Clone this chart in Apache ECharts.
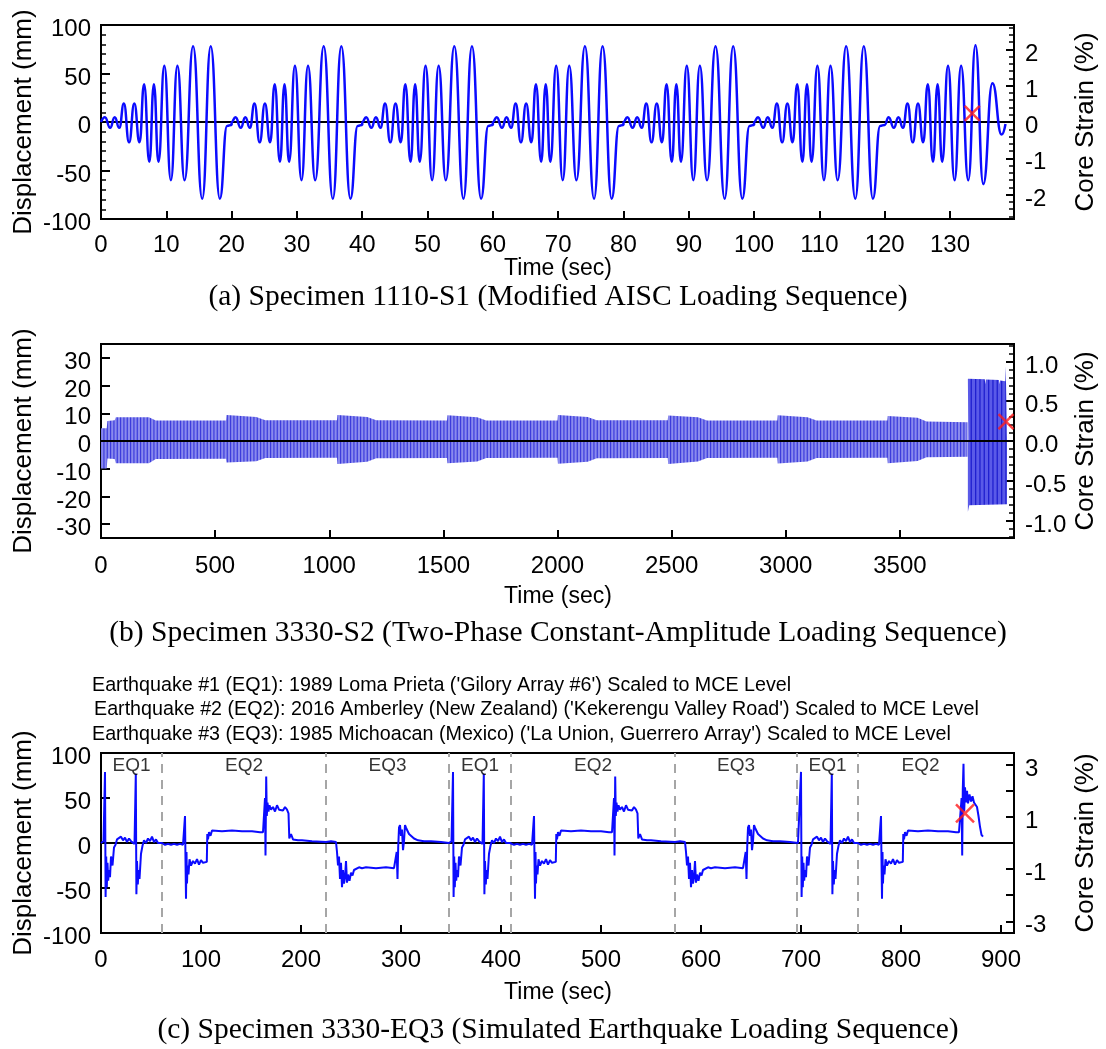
<!DOCTYPE html>
<html><head><meta charset="utf-8">
<script src="https://cdn.jsdelivr.net/npm/echarts@6/dist/echarts.min.js"></script>
<style>html,body{margin:0;padding:0;background:#fff}#c{width:1106px;height:1049px}</style>
</head><body><div id="c"></div>
<script>
// ================= DATA =================
// ---- Panel (a): Modified AISC loading sequence (turning points, sec / mm)
const aBlockStarts = [0, 20, 40, 60, 80, 100];
const aBlockTimes = [0, 0.6, 1.4, 2.1, 2.8, 3.5, 4.3, 5.1, 5.9, 6.6, 7.4, 8.1, 8.8, 9.7, 10.7, 11.7, 12.8, 14.1, 15.5, 16.8, 18.2, 19.3, 20];
const aBlockDisp  = [0, 5, -6, 5, -6, 19, -21, 19, -21, 39, -41, 39, -41, 58, -60, 58, -60, 78, -79, 78, -79, -4, -3];
const aLastStart = 120;
const aLastTimes = [0, 0.6, 1.4, 2.1, 2.8, 3.5, 4.3, 5.1, 5.9, 6.6, 7.4, 8.1, 8.8, 9.7, 10.7, 11.7, 12.8, 13.9, 15.1, 16.5, 17.9, 18.5];
const aLastDisp  = [-3, 5, -6, 5, -6, 19, -21, 19, -21, 39, -41, 39, -41, 58, -60, 58, -60, 79, -64, 40, -13, -2];
const aFailure = [133.4, 9];
const aStrainMajor = [-2, -1, 0, 1, 2];
const aStrainMinor = [-2.6, -2.4, -2.2, -1.8, -1.6, -1.4, -1.2, -0.8, -0.6, -0.4, -0.2, 0.2, 0.4, 0.6, 0.8, 1.2, 1.4, 1.6, 1.8, 2.2, 2.4, 2.6];

// ---- Panel (b): envelope of the dense constant-amplitude cycles (sec / mm)
const bUpper1T = [0, 25, 28, 60, 65, 210, 240, 548, 550, 680, 720, 1034, 1036, 1166, 1206, 1516, 1518, 1648, 1688, 2000, 2002, 2132, 2172, 2483, 2485, 2615, 2655, 2963, 2965, 3095, 3135, 3445, 3447, 3577, 3617, 3796];
const bUpper1D = [4.6, 4.6, 7.2, 7.5, 8.6, 8.6, 7.4, 7.4, 9.4, 8.7, 7.5, 7.5, 9.4, 8.7, 7.5, 7.4, 9.3, 8.6, 7.4, 7.4, 9.4, 8.7, 7.5, 7.5, 9.2, 8.6, 7.4, 7.4, 9.3, 8.6, 7.4, 7.4, 9.0, 8.4, 7.0, 6.8];
const bLower1T = bUpper1T;
const bLower1D = [-9.9, -9.9, -6.3, -6.5, -8, -8, -6.5, -6.4, -7.8, -7.3, -6.1, -6.0, -8.3, -7.5, -6.2, -6.1, -8, -7.4, -6.1, -6.0, -8.2, -7.5, -6.2, -6.1, -8.3, -7.4, -6.1, -6.0, -8.1, -7.4, -6.1, -6.0, -8.0, -7.2, -5.9, -5.7];
const bUpper2T = [3798, 3800, 3872, 3874, 3877, 3934, 3936, 3939, 3962, 3964, 3969];
const bUpper2D = [22.5, 23, 22.3, 20.5, 22.2, 22, 20.5, 21.8, 21.6, 27, 27];
const bLower2T = [3798, 3801, 3804, 3969];
const bLower2D = [-25.5, -25.5, -23.2, -22.8];
const bFailure = [3965, 7];
const bDispTicks = [-30, -20, -10, 0, 10, 20, 30];
const bStrainMajor = [-1, -0.5, 0, 0.5, 1];
const bStrainMinor = [-1.2, -1.1, -0.9, -0.8, -0.7, -0.6, -0.4, -0.3, -0.2, -0.1, 0.1, 0.2, 0.3, 0.4, 0.6, 0.7, 0.8, 0.9, 1.1, 1.2];

// ---- Panel (c): simulated earthquake sequence (time relative to event start, sec / mm)
const eq1T = [0, 2.5, 4, 4.6, 5.2, 5.8, 6.5, 7.2, 8, 9, 10, 11.5, 13, 14.5, 16, 18, 20, 22, 24, 26, 28, 30, 32, 33.5, 34.8, 35.4, 36, 36.8, 37.6, 38.5, 40, 41.5, 43, 45, 47, 49, 51, 53, 55, 57, 59, 61];
const eq1D = [0, 2, 79, -60, -15, -49, -22, -42, -30, -38, -15, -25, -5, -2, 4, 2, 7, 3, 6, 1, 5, 2, 4, -1, 77, -57, -20, -46, -30, -40, -12, -3, 3, 0, 5, 2, 7, 1, 4, 0, 2, 0];
const eq2T = [0, 3, 6, 9, 12, 15, 18, 21, 22.5, 23, 23.5, 24, 24.5, 25, 25.5, 26.5, 27.5, 29, 31, 33, 35, 37, 39, 41, 43, 44.8, 45.3, 46, 47, 48.5, 50, 52, 60, 70, 80, 90, 98, 101, 102.5, 103, 103.5, 104.2, 104.8, 105.5, 106.5, 107.5, 109, 111, 113, 115, 117, 119, 121, 123, 125, 126.5, 127.3, 129, 131, 133, 136, 140, 150, 164];
const eq2D = [-1, -2, -1, -2, -1, -2, -1, -2, -3, 30, -20, -62, -10, -45, -25, -35, -18, -25, -20, -23, -18, -24, -19, -22, -20, -21, 10, 4, 12, 8, 14, 13, 13, 14, 13, 13, 12, 12, 11, 50, -14, 74, 30, 45, 35, 42, 37, 40, 35, 42, 37, 39, 36, 40, 37, 33, 5, 10, 4, 6, 3, 3, 2, 1];
const eq3T = [0, 5, 10, 11, 12, 13, 14, 15, 16, 17, 18, 19, 20, 21, 22, 23.5, 25, 26.5, 28, 30, 33, 36, 40, 50, 60, 68, 70, 70.7, 71.5, 72.2, 73, 74, 75, 76, 77, 78, 79, 80, 81, 83, 85, 88, 92, 98, 105, 115, 123];
const eq3D = [3, 2, 1, -10, -25, -15, -40, -22, -49, -30, -45, -38, -20, -44, -35, -42, -33, -36, -30, -28, -27, -28, -27, -28, -27, -28, -26, -10, -40, -5, 17, 20, 8, 15, -8, 2, 20, 17, 15, 10, 8, 5, 3, 2, 2, 1, 0];
const eqFailTailT = [103, 103.6, 104.2, 104.8, 105.5, 106.2, 107, 108, 109, 110, 111.5, 113, 114.5, 116, 117.5, 119, 120.5, 122, 123.5, 125];
const eqFailTailD = [12, 50, -14, 60, 88, 35, 62, 45, 58, 44, 54, 46, 52, 45, 47, 40, 30, 18, 9, 7];
const cEvents = ['EQ1', 'EQ2', 'EQ3', 'EQ1', 'EQ2', 'EQ3', 'EQ1', 'EQ2'];
const cStarts = [0, 61, 225, 348, 410, 574, 696, 757];
const cFailure = [864, 33];
const cStrainMajor = [-3, -2, -1, 0, 1, 2, 3];
const cStrainLabels = [-3, -1, 1, 3];

// ================= BUILD =================
const pairs = (T, D, off) => T.map((t, i) => [t + (off || 0), D[i]]);
const aData = [];
aBlockStarts.forEach(s => aData.push(...pairs(aBlockTimes, aBlockDisp, s)));
aData.push(...pairs(aLastTimes, aLastDisp, aLastStart));

const templates = {EQ1: [eq1T, eq1D], EQ2: [eq2T, eq2D], EQ3: [eq3T, eq3D]};
const cData = [];
cEvents.forEach((ev, k) => {
  const s = cStarts[k];
  const [T, D] = templates[ev];
  if (k === cEvents.length - 1) {
    T.forEach((t, i) => { if (t < eqFailTailT[0]) cData.push([s + t, D[i]]); });
    cData.push(...pairs(eqFailTailT, eqFailTailD, s));
  } else {
    cData.push(...pairs(T, D, s));
  }
});
const cEnd = cData[cData.length - 1][0];
const cBounds = cStarts.slice(1);
const cLabelPts = cEvents.map((ev, k) => {
  const a = cStarts[k], b = k < cStarts.length - 1 ? cStarts[k + 1] : cEnd;
  return {name: ev, value: [(a + b) / 2, 86]};
});

// ================= STYLE =================
const FONT = '"Liberation Sans", Arial, sans-serif';
const SERIF = '"Liberation Serif", "Times New Roman", serif';
function stripes(bg, fg, w, xs, lw) {
  const cv = document.createElement('canvas'); cv.width = w; cv.height = 8;
  const g = cv.getContext('2d'); g.fillStyle = bg; g.fillRect(0, 0, w, 8);
  g.fillStyle = fg; xs.forEach(x => g.fillRect(x, 0, lw, 8));
  return {image: cv, repeat: 'repeat'};
}
const pat1 = stripes('#8a8aee', '#3c3cdc', 10, [0, 3.33, 6.67], 1.2);
const pat2 = stripes('#5a5ae8', '#2020d0', 13, [0, 4.3, 8.6], 1.3);
const BLUE = '#0b0bff';

const G = [
  {left: 101, top: 25, width: 913, height: 194},
  {left: 101, top: 344, width: 913, height: 194},
  {left: 101, top: 753, width: 913, height: 180}
].map(g => Object.assign(g, {show: true, borderColor: '#000', borderWidth: 2, backgroundColor: 'transparent'}));

const tickLbl = {color: '#000', fontSize: 24, fontFamily: FONT};
const yLblShift = {verticalAlign: 'top', lineHeight: 9};
function xAx(gi, max, interval, margin) {
  return {gridIndex: gi, type: 'value', min: 0, max: max, interval: interval,
    axisLine: {show: false, onZero: false}, splitLine: {show: false},
    axisTick: {inside: true, length: 8, lineStyle: {color: '#000', width: 2}},
    axisLabel: Object.assign({margin: margin, showMaxLabel: false,
      formatter: v => (Math.abs(v / interval - Math.round(v / interval)) < 1e-6 ? String(v) : '')}, tickLbl)};
}
function yLeft(gi, min, max, opts) {
  return Object.assign({gridIndex: gi, type: 'value', position: 'left', min: min, max: max,
    axisLine: {show: false, onZero: false}, splitLine: {show: false},
    axisTick: {inside: true, length: 9, lineStyle: {color: '#000', width: 2}},
    axisLabel: Object.assign({margin: 10}, tickLbl, yLblShift)}, opts || {});
}
function yRightMajor(gi, R, tickVals, labelVals, fmt) {
  return {gridIndex: gi, type: 'value', position: 'right', min: -R, max: R,
    axisLine: {show: false, onZero: false}, splitLine: {show: false},
    axisTick: {inside: true, length: 8, customValues: tickVals, lineStyle: {color: '#000', width: 2}},
    axisLabel: Object.assign({margin: 11, customValues: labelVals, formatter: fmt || (v => String(v))}, tickLbl, yLblShift)};
}
function yRightMinor(gi, R, vals) {
  return {gridIndex: gi, type: 'value', position: 'right', min: -R, max: R,
    axisLine: {show: false, onZero: false}, splitLine: {show: false}, axisLabel: {show: false},
    axisTick: {inside: true, length: 5, customValues: vals, lineStyle: {color: '#000', width: 1.5}}};
}
const Ra = 100 / 37.4, Rb = 1.22, Rc = 3.45;

const xAxis = [xAx(0, 139.8, 10, 14), xAx(1, 4000, 500, 16), xAx(2, 913, 100, 15)];
const yAxis = [
  yLeft(0, -100, 100, {interval: 50, minorTick: {show: true, splitNumber: 5, length: 5, lineStyle: {color: '#000', width: 1.5}}}), // 0
  yRightMajor(0, Ra, aStrainMajor, aStrainMajor),                 // 1
  yRightMinor(0, Ra, aStrainMinor),                              // 2
  yLeft(1, -35, 35, {axisTick: {inside: true, length: 9, customValues: bDispTicks, lineStyle: {color: '#000', width: 2}},
    axisLabel: Object.assign({margin: 10, customValues: bDispTicks}, tickLbl, yLblShift)}), // 3
  yRightMajor(1, Rb, bStrainMajor, bStrainMajor, v => v.toFixed(1)), // 4
  yRightMinor(1, Rb, bStrainMinor),                              // 5
  yLeft(2, -100, 100, {interval: 50}),                           // 6
  yRightMajor(2, Rc, cStrainMajor, cStrainLabels),               // 7
];

const zeroLine = (xi, yi) => ({type: 'line', xAxisIndex: xi, yAxisIndex: yi, data: [], z: 10, silent: true,
  markLine: {silent: true, symbol: 'none', label: {show: false}, animation: false,
    lineStyle: {color: '#000', width: 2, type: 'solid'}, data: [{yAxis: 0}]}});
const xMark = (xi, yi, pt, size) => ({type: 'scatter', xAxisIndex: xi, yAxisIndex: yi, data: [pt], z: 20, silent: true,
  symbol: 'path://M0,0L10,10M10,0L0,10', symbolSize: size,
  itemStyle: {color: 'rgba(0,0,0,0)', borderColor: '#ff1a1a', borderWidth: 2.5}});
const band = (T, D, pat) => ({type: 'line', xAxisIndex: 1, yAxisIndex: 3, data: pairs(T, D), showSymbol: false, z: 2,
  lineStyle: {width: 0, opacity: 0}, areaStyle: {color: pat, opacity: 1}, silent: true});

const series = [
  {type: 'line', xAxisIndex: 0, yAxisIndex: 0, data: aData, showSymbol: false, smooth: 0.5, smoothMonotone: 'x',
    lineStyle: {color: BLUE, width: 2.5}, z: 5},
  zeroLine(0, 0),
  xMark(0, 0, aFailure, 15),
  band(bUpper1T, bUpper1D, pat1), band(bLower1T, bLower1D, pat1),
  band(bUpper2T, bUpper2D, pat2), band(bLower2T, bLower2D, pat2),
  zeroLine(1, 3),
  xMark(1, 3, bFailure, 15),
  {type: 'line', xAxisIndex: 2, yAxisIndex: 6, data: cData, showSymbol: false,
    lineStyle: {color: BLUE, width: 2}, z: 5,
    markLine: {silent: true, symbol: 'none', label: {show: false}, animation: false,
      lineStyle: {color: '#a6a6a6', width: 2, type: [9, 7]}, data: cBounds.map(b => ({xAxis: b}))}},
  zeroLine(2, 6),
  {type: 'scatter', xAxisIndex: 2, yAxisIndex: 6, data: cLabelPts, symbolSize: 1, silent: true, z: 6,
    itemStyle: {color: 'rgba(0,0,0,0)'},
    label: {show: true, position: 'inside', formatter: p => p.name, color: '#000', fontSize: 19, fontFamily: FONT}},
  xMark(2, 6, cFailure, 18)
];

const T = (text, x, y, size, opts) => Object.assign({type: 'text', x: x, y: y, silent: true,
  style: {text: text, fill: '#000', font: size + 'px ' + ((opts && opts.serif) ? SERIF : FONT),
    align: (opts && opts.align) || 'center', verticalAlign: 'middle'}}, (opts && opts.rot) ? {rotation: Math.PI / 2} : {});
const graphic = [
  T('Displacement (mm)', 24, 122, 26, {rot: 1}), T('Core Strain (%)', 1086, 122, 26, {rot: 1}),
  T('Time (sec)', 558, 269, 23), T('(a) Specimen 1110-S1 (Modified AISC Loading Sequence)', 558, 297, 29.5, {serif: 1}),
  T('Displacement (mm)', 24, 441, 26, {rot: 1}), T('Core Strain (%)', 1086, 441, 26, {rot: 1}),
  T('Time (sec)', 558, 597, 23), T('(b) Specimen 3330-S2 (Two-Phase Constant-Amplitude Loading Sequence)', 558, 633, 29.5, {serif: 1}),
  T("Earthquake #1 (EQ1): 1989 Loma Prieta ('Gilory Array #6') Scaled to MCE Level", 92, 686, 19.7, {align: 'left'}),
  T("Earthquake #2 (EQ2): 2016 Amberley (New Zealand) ('Kekerengu Valley Road') Scaled to MCE Level", 94, 710, 19.7, {align: 'left'}),
  T("Earthquake #3 (EQ3): 1985 Michoacan (Mexico) ('La Union, Guerrero Array') Scaled to MCE Level", 92, 735, 19.7, {align: 'left'}),
  T('Displacement (mm)', 24, 843, 26, {rot: 1}), T('Core Strain (%)', 1086, 843, 26, {rot: 1}),
  T('Time (sec)', 558, 993, 23), T('(c) Specimen 3330-EQ3 (Simulated Earthquake Loading Sequence)', 558, 1030, 29.5, {serif: 1})
];

const chart = echarts.init(document.getElementById('c'), null, {renderer: 'canvas'});
chart.setOption({animation: false, backgroundColor: '#fff', textStyle: {fontFamily: FONT},
  grid: G, xAxis: xAxis, yAxis: yAxis, series: series, graphic: graphic});
</script></body></html>
